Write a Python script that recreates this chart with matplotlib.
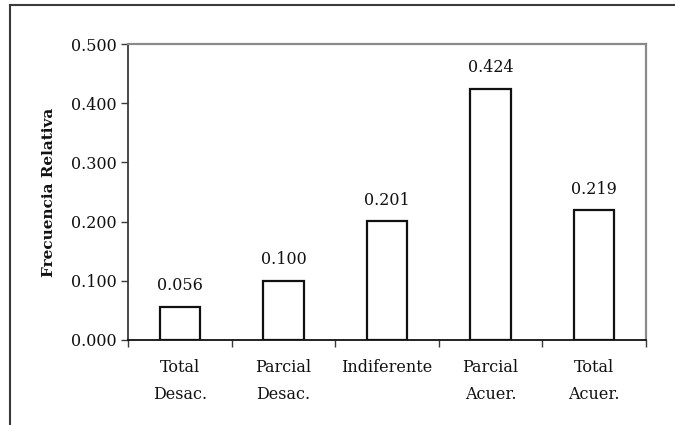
import matplotlib.pyplot as plt
from matplotlib.lines import Line2D

categories = ['Total\nDesac.', 'Parcial\nDesac.', 'Indiferente', 'Parcial\nAcuer.', 'Total\nAcuer.']
values = [0.056, 0.100, 0.201, 0.424, 0.219]
value_labels = ['0.056', '0.100', '0.201', '0.424', '0.219']
y_ticks = [0.0, 0.1, 0.2, 0.3, 0.4, 0.5]

FONT = 'DejaVu Serif'
INK = '#111111'
FRAME = '#3a3a3a'
PLOT_EDGE = '#8a8a8a'
FS = 11.5

plt.rcParams['font.family'] = FONT

fig = plt.figure(figsize=(6.75, 4.25), dpi=100, facecolor='white')
ax = fig.add_axes([128 / 675, 1 - 340 / 425, (646 - 128) / 675, (340 - 44) / 425])

x = list(range(len(categories)))
ax.bar(x, values, width=0.39, facecolor='white', edgecolor=INK, linewidth=1.6, zorder=3)

for xi, v, lab in zip(x, values, value_labels):
    ax.annotate(lab, (xi, v), xytext=(0, 9), textcoords='offset points',
                ha='center', va='bottom', fontsize=FS, color=INK)

ax.set_xlim(-0.5, len(categories) - 0.5)
ax.set_ylim(0, 0.5)
ax.set_yticks(y_ticks)
ax.set_yticklabels([f'{t:.3f}' for t in y_ticks], fontsize=FS, color=INK)

# category boundaries carry the ticks, labels sit at the centres
ax.set_xticks([i - 0.5 for i in range(len(categories) + 1)])
ax.set_xticklabels([])
ax.set_xticks(x, minor=True)
ax.set_xticklabels(categories, minor=True, fontsize=FS, color=INK, linespacing=1.75)
ax.tick_params(axis='x', which='major', length=5, width=1, color=FRAME, direction='out')
ax.tick_params(axis='x', which='minor', length=0, pad=14)
ax.tick_params(axis='y', length=5, width=1, color=FRAME, direction='out', pad=3)

ax.spines['left'].set_color(FRAME)
ax.spines['bottom'].set_color(INK)
ax.spines['left'].set_linewidth(1.3)
ax.spines['bottom'].set_linewidth(1.3)
ax.spines['top'].set_color(PLOT_EDGE)
ax.spines['right'].set_color(PLOT_EDGE)
ax.spines['top'].set_linewidth(1.6)
ax.spines['right'].set_linewidth(1.6)

ax.set_ylabel('Frecuencia Relativa', fontsize=11, fontweight='bold', color=INK, labelpad=11)

# outer chart frame (left and top edges visible)
fig.add_artist(Line2D([10 / 675, 10 / 675], [0, 1 - 5 / 425], transform=fig.transFigure,
                      color=FRAME, linewidth=1.5))
fig.add_artist(Line2D([10 / 675, 1], [1 - 5 / 425, 1 - 5 / 425], transform=fig.transFigure,
                      color=FRAME, linewidth=1.5))

fig.savefig('out.png', dpi=100, facecolor='white')
